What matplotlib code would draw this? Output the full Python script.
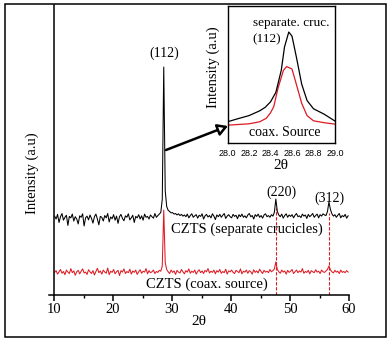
import numpy as np
import matplotlib
matplotlib.use("Agg")
import matplotlib.pyplot as plt
from matplotlib.patches import Rectangle, FancyArrowPatch

# ---------------- data ----------------
start_2theta = 10.1
step_2theta = 0.25

sep_crucibles = [
    272, 262, 278, 250, 270, 281, 258, 268, 275,
    240, 271, 266, 279, 255, 270, 262, 245,
    273, 268, 280, 238, 266, 272, 259, 276,
    264, 248, 270, 279, 262, 242, 271, 268,
    255, 274, 266, 281, 252, 269, 263, 277,
    258, 272, 247, 270, 278, 264, 256, 273,
    268, 280, 259, 266, 275, 250, 271, 266,
    277, 262, 273, 258, 279, 268, 271, 262,
    276, 270, 265, 281, 268, 274, 279, 285,
    330, 786, 360, 305, 292, 288, 283, 284,
    279, 281, 276, 280, 274, 278, 272, 276,
    270, 279, 266, 274, 280, 268, 273, 277,
    265, 275, 271, 280, 262, 273, 278, 269,
    274, 266, 280, 272, 260, 276, 270, 278,
    268, 275, 281, 264, 272, 277, 270, 266,
    278, 271, 275, 263, 277, 270, 279, 268,
    273, 266, 276, 281, 270, 274, 262, 277,
    271, 279, 268, 274, 265, 276, 280, 270,
    274, 268, 277, 272, 285,
    331, 288, 276,
    270, 279, 265, 274, 280, 268, 276, 271,
    277, 266, 275, 281, 270, 273, 267, 279,
    272, 276, 264, 278, 270, 275, 281, 268,
    274, 279, 266, 277, 272, 280, 276, 274,
    288, 321, 295, 280,
    272, 277, 268, 275, 281, 266, 274, 270, 278, 265, 273,
]

coax_source = [
    78, 84, 72, 80, 88, 75, 81, 70,
    86, 79, 74, 91, 77, 83, 68, 80,
    85, 73, 82, 90, 76, 79, 71, 87,
    80, 74, 84, 69, 81, 92, 77, 83,
    72, 86, 79, 75, 93, 70, 82, 78,
    88, 73, 80, 85, 67, 84, 79, 90,
    74, 81, 77, 89, 72, 83, 78, 86,
    71, 80, 87, 75, 82, 79, 91, 73,
    84, 77, 80, 86, 74, 81, 78, 85,
    82, 100,
    293,
    112, 88,
    80, 74, 86, 78, 83, 71, 85, 79,
    76, 88, 80, 73, 84, 79, 90, 75,
    82, 78, 86, 72, 81, 87, 77, 83,
    74, 85, 80, 91, 76, 82, 78, 86,
    73, 84, 79, 88, 75, 81, 77, 89,
    72, 83, 80, 86, 78, 74, 85, 81,
    77, 90, 73, 82, 79, 86, 75, 84,
    80, 72, 87, 78, 83, 76, 89, 81,
    74, 85, 79, 82, 77, 88, 80, 84,
    90, 114, 88,
    80, 75, 86, 79, 83, 72, 85, 78,
    82, 88, 74, 80, 86, 77, 83, 79,
    91, 75, 81, 78, 85, 73, 84, 80,
    77, 87, 79, 82, 74, 86, 80, 78,
    83, 88, 100, 87,
    80, 76, 85, 79, 82, 74, 86, 78,
    81, 77, 84, 79,
]

peak_labels = ["(112)", "(220)", "(312)"]
peak_positions = [28.6, 47.6, 56.6]
guide_tops = [300, 283]          # dashed guides for (220), (312)

inset_x_sep = [28.0, 28.1, 28.2, 28.3, 28.35, 28.4, 28.45, 28.5, 28.53, 28.57,
               28.6, 28.64, 28.69, 28.74, 28.8, 28.9, 29.0]
inset_y_sep = [0.155, 0.178, 0.20, 0.235, 0.26, 0.30, 0.37, 0.53, 0.70, 0.81,
               0.78, 0.63, 0.43, 0.31, 0.25, 0.21, 0.16]
inset_x_coax = [28.0, 28.1, 28.2, 28.3, 28.36, 28.4, 28.43, 28.47, 28.52, 28.55,
                28.6, 28.64, 28.69, 28.74, 28.8, 28.9, 29.0]
inset_y_coax = [0.13, 0.135, 0.14, 0.155, 0.18, 0.22, 0.265, 0.40, 0.53, 0.558,
                0.54, 0.43, 0.29, 0.20, 0.162, 0.148, 0.138]

main_xticks = [10, 20, 30, 40, 50, 60]
inset_xticks = [28.0, 28.2, 28.4, 28.6, 28.8, 29.0]

# ---------------- style ----------------
SERIF = ["Liberation Serif", "DejaVu Serif"]
SANS = ["Liberation Sans", "DejaVu Sans"]
RED = "#dd1a22"
W, H = 387, 340

fig = plt.figure(figsize=(W / 100, H / 100), dpi=100)

def fx(px):
    return px / W

def fy(py):
    return 1 - py / H

# outer border
fig.patches.append(Rectangle((fx(5), fy(337)), fx(385.5) - fx(5), fy(4) - fy(337),
                             transform=fig.transFigure, fill=False,
                             edgecolor="black", linewidth=1.1, zorder=0))

# ---------------- main axes ----------------
ax = fig.add_axes([fx(49), fy(295), fx(349) - fx(49), fy(5) - fy(295)])
x_sep = start_2theta + step_2theta * np.arange(len(sep_crucibles))
x_coax = start_2theta + step_2theta * np.arange(len(coax_source))
ax.plot(x_coax, coax_source, color=RED, lw=0.75, zorder=2)
ax.plot(x_sep, sep_crucibles, color="black", lw=0.75, zorder=3)

for pos, top in zip(peak_positions[1:], guide_tops):
    ax.plot([pos, pos], [0, top], color=RED, lw=0.8, ls=(0, (3, 1.5)), zorder=1)

ax.set_xlim(9.15, 60)
ax.set_ylim(0, 1000)
ax.spines["left"].set_position(("data", 10))
ax.spines["top"].set_visible(False)
ax.spines["right"].set_visible(False)
for s in ("left", "bottom"):
    ax.spines[s].set_linewidth(1.1)
ax.set_yticks([])
ax.set_xticks(main_xticks)
ax.set_xticks([15, 25, 35, 45, 55], minor=True)
ax.tick_params(axis="x", which="major", direction="out", length=4, width=1.1, pad=2)
ax.tick_params(axis="x", which="minor", direction="out", length=2.5, width=1.0)
for lab in ax.get_xticklabels():
    lab.set_fontfamily(SERIF)
    lab.set_fontsize(10.5)
ax.set_xlabel("2θ", family=SERIF, fontsize=11, labelpad=-1)
ax.set_ylabel("Intensity (a.u)", family=SERIF, fontsize=10.5)
ax.yaxis.set_label_coords(-0.033, 0.42)

label_y = [834, 355, 334]
label_x = [28.65, 48.5, 56.6]
for t, lx, ly in zip(peak_labels, label_x, label_y):
    ax.text(lx, ly, t, family=SERIF, fontsize=10, ha="center", va="center")
ax.text(42.7, 228, "CZTS (separate crucicles)", family=SERIF, fontsize=10.5,
        ha="center", va="center")
ax.text(35.9, 38, "CZTS (coax. source)", family=SERIF, fontsize=10.5,
        ha="center", va="center")

# ---------------- inset ----------------
ins = fig.add_axes([fx(227.5), fy(143), fx(335) - fx(227.5), fy(6) - fy(143)])
ins.plot(inset_x_coax, inset_y_coax, color=RED, lw=0.9)
ins.plot(inset_x_sep, inset_y_sep, color="black", lw=0.9)
ins.set_xlim(28.0, 29.0)
ins.set_ylim(0, 1)
ins.set_yticks([])
ins.set_xticks(inset_xticks)
ins.set_xticklabels([f"{v:.1f}" for v in inset_xticks])
ins.tick_params(axis="x", length=0, pad=4)
for lab in ins.get_xticklabels():
    lab.set_fontfamily(SANS)
    lab.set_fontsize(6.5)
for s in ins.spines.values():
    s.set_linewidth(1.0)
ins.set_xlabel("2θ", family=SERIF, fontsize=11, labelpad=1)
ins.set_ylabel("Intensity (a.u)", family=SERIF, fontsize=10.5)
ins.yaxis.set_label_coords(-0.07, 0.55)
ins.text(28.59, 0.877, "separate. cruc.", family=SERIF, fontsize=9.5,
         ha="center", va="center")
ins.text(28.36, 0.754, "(112)", family=SERIF, fontsize=9.5, ha="center", va="center")
ins.text(28.53, 0.08, "coax. Source", family=SERIF, fontsize=10,
         ha="center", va="center")

# ---------------- arrow ----------------
arrow = FancyArrowPatch((166, H - 150), (228, H - 126), transform=None,
                        arrowstyle="-|>,head_length=6,head_width=3.5",
                        mutation_scale=1, linewidth=1.8,
                        edgecolor="black", facecolor="white", zorder=10,
                        shrinkA=0, shrinkB=0)
fig.patches.append(arrow)

fig.savefig("out.png", dpi=100)
